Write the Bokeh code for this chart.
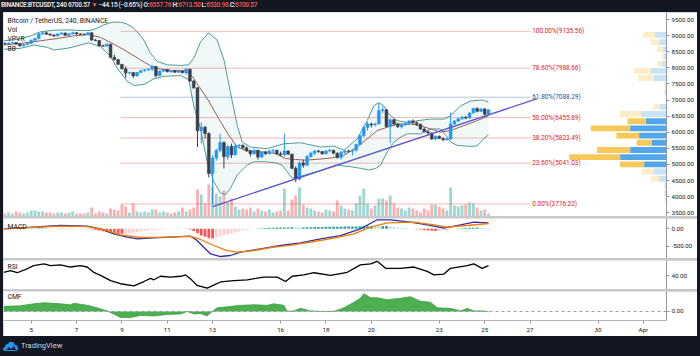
from bokeh.plotting import figure
from bokeh.layouts import column
from bokeh.models import (Range1d, FixedTicker, NumeralTickFormatter, ColumnDataSource,
                          Label, Span, Div, GlobalInlineStyleSheet)
from bokeh.core.properties import value
from bokeh.embed import file_html
from bokeh.resources import INLINE

# ---------------- data ----------------
symbol_text = "BINANCE:BTCUSDT, 240"
change_abs = -44.15
change_pct = -0.65
candle_start_day = 3 + 20 / 24      # first bar: 3 Mar 20:00
candle_step_day = 4 / 24            # 240-minute bars

opens = [8760, 8740, 8770, 8785, 8740, 8690, 8725, 8760, 8860, 8910,
         9060, 9090, 9045, 9020, 8990, 9055, 9085, 9010, 9060, 9095,
         9055, 9045, 9040, 9090, 8865, 8850, 8690, 8675, 8735, 8330,
         8255, 8110, 7970, 7840, 7860, 7750, 7855, 7915, 7940, 7960,
         8045, 7760, 7900, 7950, 7880, 7910, 7865, 7900, 7850, 7960,
         7590, 7380, 6050, 6160, 5960, 4720, 5200, 5440, 5680, 5240,
         5560, 5300, 5580, 5600, 5520, 5420, 5330, 5440, 5230, 5380,
         5330, 5420, 5440, 5330, 5300, 5420, 5320, 4880, 4550, 5050,
         4980, 5250, 5350, 5420, 5400, 5330, 5420, 5440, 5350, 5220,
         5380, 5420, 5410, 5440, 5620, 5900, 6150, 6260, 6230, 6260,
         6680, 6700, 6180, 6390, 6260, 6170, 6230, 6270, 6350, 6300,
         6250, 6100, 6020, 5980, 5790, 5880, 5810, 5770, 5800, 6260,
         6350, 6420, 6470, 6440, 6600, 6740, 6650, 6720, 6557.76]
highs = [8790, 8790, 8810, 8800, 8760, 8750, 8780, 8880, 8930, 9080,
         9110, 9135.56, 9080, 9040, 9070, 9100, 9095, 9075, 9120, 9110,
         9080, 9070, 9110, 9110, 8900, 8870, 8720, 8760, 8750, 8410,
         8280, 8120, 8050, 7880, 7870, 7870, 7930, 7960, 7980, 8080,
         8060, 7920, 7970, 7960, 7930, 7925, 7920, 7915, 8000, 7975,
         7620, 7400, 6310, 6200, 6000, 5300, 5480, 5950, 5720, 5600,
         5650, 5620, 5640, 5620, 5560, 5460, 5480, 5460, 5420, 5420,
         5450, 5470, 5460, 5400, 5950, 5440, 5340, 4950, 5100, 5150,
         5300, 5400, 5450, 5460, 5420, 5450, 5480, 5460, 5380, 5420,
         5450, 5460, 5460, 5650, 5920, 6180, 6320, 6300, 6300, 6900,
         6800, 6720, 6420, 6420, 6280, 6260, 6300, 6380, 6400, 6340,
         6270, 6150, 6060, 6000, 5900, 5900, 5840, 5830, 6620, 6380,
         6450, 6500, 6500, 6620, 6760, 6780, 6750, 6760, 6713.50]
lows = [8720, 8720, 8750, 8720, 8660, 8670, 8710, 8740, 8840, 8890,
        9030, 9030, 8990, 8960, 8980, 9030, 8990, 8995, 9040, 9030,
        9020, 9010, 9030, 8840, 8830, 8660, 8650, 8660, 8300, 8230,
        8090, 7950, 7690, 7800, 7690, 7730, 7840, 7880, 7900, 7900,
        7700, 7740, 7870, 7860, 7850, 7840, 7850, 7830, 7790, 7560,
        7350, 5540, 5650, 5800, 4600, 3776.22, 5120, 5380, 4880, 5150,
        5200, 5280, 5500, 5480, 5400, 5250, 5300, 5150, 5200, 5300,
        5320, 5350, 5300, 5250, 5250, 5300, 4850, 4450, 4500, 4900,
        4950, 5200, 5300, 5360, 5300, 5310, 5380, 5320, 5180, 5150,
        5330, 5360, 5280, 5400, 5590, 5850, 6050, 6150, 6180, 6240,
        6600, 6150, 5660, 6200, 6140, 6120, 6200, 6220, 6260, 6200,
        6080, 5990, 5930, 5760, 5750, 5790, 5720, 5740, 5760, 6230,
        6320, 6380, 6400, 6420, 6580, 6620, 6620, 6530, 6530.98]
closes = [8740, 8770, 8785, 8740, 8690, 8725, 8760, 8860, 8910, 9060,
          9090, 9045, 9020, 8990, 9055, 9085, 9010, 9060, 9095, 9055,
          9045, 9040, 9090, 8865, 8850, 8690, 8675, 8735, 8330, 8255,
          8110, 7970, 7840, 7860, 7750, 7855, 7915, 7940, 7960, 8045,
          7760, 7900, 7950, 7880, 7910, 7865, 7900, 7850, 7960, 7590,
          7380, 6050, 6160, 5960, 4720, 5200, 5440, 5680, 5240, 5560,
          5300, 5580, 5600, 5520, 5420, 5330, 5440, 5230, 5380, 5330,
          5420, 5440, 5330, 5300, 5420, 5320, 4880, 4550, 5050, 4980,
          5250, 5350, 5420, 5400, 5330, 5420, 5440, 5350, 5220, 5380,
          5420, 5410, 5440, 5620, 5900, 6150, 6260, 6230, 6260, 6680,
          6700, 6180, 6390, 6260, 6170, 6230, 6270, 6350, 6300, 6250,
          6100, 6020, 5980, 5790, 5880, 5810, 5770, 5800, 6260, 6350,
          6420, 6470, 6440, 6600, 6740, 6650, 6720, 6557.76, 6700.57]
volumes = [3, 4, 3, 5, 4, 3, 4, 6, 6, 5,
           5, 4, 4, 3, 4, 4, 3, 4, 5, 3,
           3, 3, 4, 9, 3, 5, 4, 3, 8, 7,
           6, 12, 10, 4, 13, 5, 4, 5, 4, 7,
           7, 4, 5, 4, 3, 4, 5, 9, 5, 7,
           9, 27, 22, 13, 32, 30, 23, 20, 26, 14,
           18, 10, 7, 8, 7, 9, 5, 8, 6, 5,
           7, 4, 5, 6, 28, 6, 17, 21, 29, 12,
           9, 8, 6, 5, 4, 7, 6, 5, 16, 11,
           8, 7, 6, 13, 21, 28, 13, 8, 11, 18,
           18, 16, 21, 13, 9, 8, 6, 9, 8, 6,
           4, 8, 6, 12, 12, 10, 8, 6, 29, 11,
           10, 11, 12, 14, 13, 9, 6, 7, 3]
macd_hist = [5, 6, 6, 5, 4, 4, 5, 8, 10, 14,
             16, 15, 13, 11, 11, 12, 10, 10, 12, 11,
             9, 8, 9, -15, -30, -50, -70, -95, -115, -130,
             -140, -145, -140, -125, -110, -95, -80, -65, -50, -38,
             -30, -22, -14, -8, 0, 4, 6, 5, 8, -20,
             -60, -130, -190, -230, -270, -275, -250, -220, -190, -160,
             -130, -100, -70, -45, -25, -10, 5, 12, 18, 24,
             28, 32, 34, 36, 38, 40, 45, 38, 35, 40,
             44, 48, 50, 52, 55, 56, 58, 60, 62, 62,
             64, 65, 66, 68, 70, 70, 72, 75, 72, 70,
             72, 78, 60, 45, 32, 22, 14, 8, 2, -10,
             -22, -35, -48, -58, -62, -55, -48, -40, -20, 0,
             10, 18, 24, 28, 32, 34, 30, 28, 26]

# Bollinger Bands
bb_upper_x = [3.79, 4.5, 5.0, 5.4, 6.0, 6.6, 7.2, 7.6, 7.9, 8.2, 8.6, 8.94, 9.2, 9.5, 9.82,
              9.97, 10.26, 10.56, 11.0, 11.59, 11.95, 12.17, 12.47, 12.83, 13.2, 13.5, 13.79,
              14.09, 14.31, 14.67, 15.41, 16.14, 16.88, 17.76, 18.35, 18.79, 19.38, 19.82,
              20.11, 20.33, 20.55, 20.77, 21.14, 21.59, 22.03, 22.61, 23.2, 23.49, 23.94,
              24.38, 24.89, 25.17]
bb_upper = [8840, 8900, 9000, 9120, 9170, 9180, 9160, 9160, 9230, 9340, 9420, 9420, 9370, 9250, 9000,
            8860, 8453, 8198, 8096, 8076, 8096, 8300, 8811, 9087, 8862, 8249, 7229,
            6206, 5696, 5543, 5492, 5645, 5676, 5543, 5574, 5441, 5798, 6360,
            6820, 6922, 6820, 6564, 6360, 6309, 6360, 6411, 6411, 6513, 6820,
            6973, 7004, 6940]
bb_lower_x = [3.79, 4.53, 5.11, 5.71, 6.0, 6.59, 7.17, 7.54, 8.06, 8.5, 8.79, 9.23, 9.53, 9.97,
              10.41, 10.85, 11.59, 11.95, 12.17, 12.47, 12.76, 13.05, 13.35, 13.57, 13.79,
              14.09, 14.53, 14.82, 15.34, 15.78, 16.07, 16.51, 17.1, 17.84, 18.42, 19.08,
              19.53, 19.89, 20.2, 20.41, 20.7, 21.0, 21.3, 21.59, 22.17, 22.61, 23.05, 23.35,
              23.49, 23.79, 24.38, 24.67, 24.96, 25.17]
bb_lower = [8577, 8607, 8709, 8638, 8556, 8607, 8709, 8780, 8658, 8351, 7994, 7586, 7453, 7484,
            7658, 7739, 7760, 7637, 6818, 6104, 5084, 4471, 4113, 4062, 4266,
            4675, 4981, 5084, 5084, 5050, 4981, 4573, 4675, 4828, 4981, 4930,
            4880, 4828, 4880, 4981, 5390, 5696, 5850, 5951, 5951, 6104, 6104, 5850,
            5700, 5594, 5560, 5580, 5798, 5920]
bb_basis_x = [3.79, 4.53, 5.41, 6.15, 6.88, 7.54, 8.06, 8.64, 9.23, 9.82, 10.26, 10.7, 11.14,
              11.81, 12.1, 12.39, 12.83, 13.28, 13.72, 14.09, 14.45, 14.89, 15.34, 15.78,
              16.22, 16.66, 17.1, 17.69, 18.28, 18.79, 19.38, 19.82, 20.26, 20.7, 21.14,
              21.73, 22.17, 22.61, 23.05, 23.49, 24.08, 24.67, 25.17]
bb_basis = [8709, 8760, 8842, 8913, 8995, 9036, 8944, 8740, 8505, 8249, 8066, 7963, 7922,
            7912, 7739, 7432, 6972, 6411, 5900, 5543, 5441, 5390, 5390, 5339,
            5185, 5155, 5134, 5165, 5206, 5287, 5543, 5798, 6053, 6156, 6258,
            6258, 6207, 6104, 6003, 6053, 6207, 6360, 6510]

# Fibonacci retracement
fib_ratios = [0.0, 23.6, 38.2, 50.0, 61.8, 78.6, 100.0]
fib_prices = [3776.22, 5041.03, 5823.49, 6455.89, 7088.29, 7988.66, 9135.56]
fib_start_day, fib_end_day = 8.94, 27.02

# trend line drawing
trend_x = [13.0, 27.32]
trend_y = [3694, 7045]

# Volume profile (24 rows between the visible low and high), bottom row first
vp_low, vp_high, vp_rows = 3776.22, 9135.56, 24
vp_up = [1.0, 2.0, 1.7, 7.4, 12.4, 22.4, 46.4, 36.4, 15.0, 27.4, 36.4, 20.7,
         25.7, 7.0, 0.5, 1.5, 1.2, 13.0, 15.7, 4.4, 2.4, 4.0, 7.4, 11.4]
vp_down = [0.5, 0.3, 0.5, 8.3, 12.3, 24.0, 51.0, 33.0, 14.7, 22.6, 39.3, 18.3,
           20.7, 6.0, 0.0, 0.8, 1.0, 15.4, 16.7, 4.6, 2.0, 5.7, 8.3, 12.0]
vp_value_area = (5, 11)

# MACD (12,26,9)
macd_x = [3.79, 4.53, 6.29, 7.47, 8.06, 8.64, 9.23, 9.68, 10.41, 11.29, 12.03, 12.32, 12.61,
          12.91, 13.35, 13.79, 14.23, 15.11, 16.0, 16.88, 17.76, 18.64, 19.52, 20.26, 20.85,
          21.73, 22.47, 23.2, 23.94, 24.52, 25.17]
macd_line = [0, 29, 95, 75, 0, -144, -241, -287, -259, -230, -213, -336, -529,
             -718, -796, -767, -672, -575, -480, -402, -287, -193, 0, 259, 259,
             190, 115, 17, 115, 190, 172]
signal_x = [3.79, 6.29, 7.47, 8.35, 8.94, 9.82, 11.0, 12.03, 12.47, 13.05, 13.64, 14.09,
            14.82, 15.7, 16.58, 17.47, 18.35, 19.23, 19.97, 20.7, 21.88, 22.76, 23.35,
            24.23, 25.17]
signal_line = [0, 75, 65, -49, -172, -250, -241, -220, -307, -480, -624, -672,
               -624, -529, -460, -365, -270, -144, 46, 172, 190, 115, 46,
               95, 152]

# RSI (14)
rsi_x = [3.79, 4.09, 4.38, 4.82, 5.11, 5.56, 5.85, 6.29, 6.73, 7.17, 7.47, 7.76, 8.06, 8.5,
         8.94, 9.53, 9.97, 10.26, 10.41, 10.7, 11.14, 11.59, 11.81, 12.03, 12.32, 12.76,
         13.05, 13.35, 13.94, 14.53, 15.26, 15.85, 16.22, 16.51, 17.02, 17.47, 18.2,
         18.94, 19.52, 19.97, 20.26, 20.63, 21.29, 21.88, 22.47, 22.76, 23.2, 23.49,
         24.23, 24.52, 24.89, 25.17]
rsi = [48, 52, 47, 56, 63, 67, 63, 65, 60, 63, 60, 48, 41, 29,
       22, 17, 27, 34, 31, 39, 37, 39, 42, 33, 18, 12,
       19, 26, 29, 31, 37, 37, 27, 39, 42, 47, 41,
       48, 65, 67, 73, 57, 57, 60, 50, 42, 44, 57,
       63, 67, 57, 63]

# Chaikin Money Flow (20)
cmf_x = [3.79, 4.53, 5.11, 5.56, 6.29, 6.73, 6.88, 7.47, 7.91, 8.35, 8.64, 8.94, 9.38, 9.82,
         10.41, 11.0, 11.59, 11.88, 12.17, 12.47, 12.76, 12.91, 13.2, 13.64, 14.23, 14.82,
         15.41, 15.7, 16.14, 16.29, 16.58, 16.88, 17.32, 17.76, 18.35, 18.79, 19.23, 19.52,
         19.67, 19.97, 20.26, 20.7, 21.29, 21.73, 22.17, 22.61, 22.91, 23.49, 23.94, 24.23,
         24.52, 24.96, 25.17]
cmf = [0.10, 0.11, 0.15, 0.17, 0.15, 0.13, 0.16, 0.12, 0.07, 0.01, -0.05, -0.12, -0.12, -0.08,
       -0.09, -0.06, -0.05, 0.0, -0.05, -0.04, -0.09, -0.03, 0.07, 0.09, 0.12, 0.13,
       0.12, 0.15, 0.12, 0.0, 0.01, 0.06, 0.01, 0.0, 0.0, 0.07, 0.18, 0.26,
       0.35, 0.27, 0.27, 0.23, 0.26, 0.29, 0.20, 0.18, 0.07, 0.06, 0.01, 0.06,
       0.01, 0.01, -0.01]

# axes
x_view = (3.778, 33.02)
xtick_days = [5, 7, 9, 11, 13, 16, 18, 20, 23, 25, 27, 30, 32]
xtick_labels = ["5", "7", "9", "11", "13", "16", "18", "20", "23", "25", "27", "30", "Apr"]
price_view = (3385, 9720)
price_ticks = [3500, 4000, 4500, 5000, 5500, 6000, 6500, 7000, 7500, 8000, 8500, 9000, 9500]
macd_view = (-853, 296)
macd_ticks = [-500, 0]
rsi_view = (8.9, 74.8)
rsi_ticks = [40]
cmf_view = (-0.179, 0.392)
cmf_ticks = [0]

# ---------------- style ----------------
FONT = "Roboto"
UP, DOWN = "#2196f3", "#3b3f4a"
W = 694
FR_RIGHT = 31
H_MAIN, H_MACD, H_RSI, H_CMF, H_XAX = 204, 40, 29, 31, 14

xr = Range1d(*x_view)


def style_yaxis(ax, ticks):
    ax.ticker = FixedTicker(ticks=ticks)
    ax.formatter = NumeralTickFormatter(format="0.00")
    ax.major_label_text_font = FONT
    ax.major_label_text_font_size = "6.2px"
    ax.major_label_text_color = "#131722"
    ax.axis_line_color = "#9598a1"
    ax.major_tick_line_color = "#9598a1"
    ax.major_tick_out = 3
    ax.major_tick_in = 0
    ax.minor_tick_out = 0
    ax.minor_tick_in = 0
    ax.major_label_standoff = 2


def pane(h, yr, ticks, xaxis=False):
    p = figure(width=W, height=h, x_range=xr, y_range=Range1d(*yr), title=None,
               output_backend="svg", toolbar_location=None,
               y_axis_location="right", x_axis_location="below" if xaxis else None,
               min_border_left=0, min_border_right=FR_RIGHT, min_border_top=0,
               min_border_bottom=H_XAX if xaxis else 0,
               background_fill_color="white", border_fill_color="white",
               outline_line_color=None)
    p.grid.visible = False
    style_yaxis(p.yaxis[0], ticks)
    return p


def pane_label(p, text, y_from_top, frame_h):
    p.add_layout(Label(x=4, y=frame_h - y_from_top, x_units="screen", y_units="screen",
                       text=text, text_font=FONT, text_font_size="6.8px",
                       text_color="#131722", text_baseline="middle"))


n = len(closes)
t = [candle_start_day + k * candle_step_day for k in range(n)]
is_up = [c >= o for o, c in zip(opens, closes)]
src = ColumnDataSource(dict(
    t=t, h=highs, l=lows,
    top=[max(o, c) for o, c in zip(opens, closes)],
    bot=[min(o, c) for o, c in zip(opens, closes)],
    ccol=[UP if u else DOWN for u in is_up],
    vol=volumes,
    vcol=["#26a69a" if u else "#ef5350" for u in is_up],
))

# ---------------- main pane ----------------
main = pane(H_MAIN, price_view, price_ticks)
main.extra_y_ranges = {"vol": Range1d(0, H_MAIN)}
main.extra_x_ranges = {"vp": Range1d(W - FR_RIGHT, 0)}

main.vbar(x="t", top="vol", bottom=0, width=0.125, source=src, y_range_name="vol",
          fill_color="vcol", fill_alpha=0.45, line_color=None)

main.patch(bb_upper_x + bb_lower_x[::-1], bb_upper + bb_lower[::-1],
           fill_color="#26a69a", fill_alpha=0.07, line_color=None)
main.line(bb_upper_x, bb_upper, line_color="#4f9c95", line_width=1)
main.line(bb_lower_x, bb_lower, line_color="#4f9c95", line_width=1)
main.line(bb_basis_x, bb_basis, line_color="#a05a55", line_width=1)

fib_line_colors = ["#2b5aa8" if r == 61.8 else "#e53935" for r in fib_ratios]
fib_text_colors = ["#1f4f9e" if r == 61.8 else "#e0201b" for r in fib_ratios]
main.segment(x0=[fib_start_day] * len(fib_prices), x1=[fib_end_day] * len(fib_prices),
             y0=fib_prices, y1=fib_prices, line_color=fib_line_colors,
             line_alpha=0.35, line_width=1)

main.segment(x0="t", x1="t", y0="h", y1="l", source=src, line_color="ccol", line_width=1)
main.vbar(x="t", top="top", bottom="bot", width=0.125, source=src,
          fill_color="ccol", line_color="ccol", line_width=0.5)

main.line(trend_x, trend_y, line_color="#5656d6", line_width=1.3)

vp_step = (vp_high - vp_low) / vp_rows
vp_centers = [vp_low + (k + 0.5) * vp_step for k in range(vp_rows)]
in_va = [vp_value_area[0] <= k <= vp_value_area[1] for k in range(vp_rows)]
main.hbar(y=vp_centers, height=vp_step * 0.82, left=0, right=vp_up, x_range_name="vp",
          fill_color=["#52a6ea" if v else "#c8e2f6" for v in in_va], line_color=None)
main.hbar(y=vp_centers, height=vp_step * 0.82, left=vp_up,
          right=[u + d for u, d in zip(vp_up, vp_down)], x_range_name="vp",
          fill_color=["#f8c95a" if v else "#fcedc8" for v in in_va], line_color=None)

fib_texts = [f"{r:.2f}%({p:.2f})" for r, p in zip(fib_ratios, fib_prices)]
main.text(x=[fib_end_day + 0.08] * len(fib_prices), y=fib_prices, text=fib_texts,
          text_color=fib_text_colors, text_font=value(FONT), text_font_size=value("6.4px"),
          text_baseline="middle", text_align="left")

pane_label(main, "Bitcoin / TetherUS, 240, BINANCE", 8.7, H_MAIN)
pane_label(main, "Vol", 17.3, H_MAIN)
pane_label(main, "VPVR", 26.3, H_MAIN)
pane_label(main, "BB", 36.3, H_MAIN)

# ---------------- MACD ----------------
macd_fig = pane(H_MACD, macd_view, macd_ticks)
hist_colors = []
for k, hv in enumerate(macd_hist):
    prev = macd_hist[k - 1] if k > 0 else hv
    if hv >= 0:
        hist_colors.append("#26a69a" if hv >= prev else "#b2dfdb")
    else:
        hist_colors.append("#ff5252" if hv < prev else "#ffcdd2")
macd_fig.vbar(x=t, top=macd_hist, bottom=0, width=0.12, fill_color=hist_colors, line_color=None)
macd_fig.line(macd_x, macd_line, line_color="#3030a8", line_width=1.3)
macd_fig.line(signal_x, signal_line, line_color="#f57c00", line_width=1.3)
pane_label(macd_fig, "MACD", 8, H_MACD)

# ---------------- RSI ----------------
rsi_fig = pane(H_RSI, rsi_view, rsi_ticks)
rsi_fig.line(rsi_x, rsi, line_color="#000000", line_width=1.3)
pane_label(rsi_fig, "RSI", 6.7, H_RSI)

# ---------------- CMF ----------------
cmf_fig = pane(H_CMF + H_XAX, cmf_view, cmf_ticks, xaxis=True)
cmf_fig.varea(x=cmf_x, y1=[0] * len(cmf_x), y2=cmf, fill_color="#4caf50")
cmf_fig.line(cmf_x, cmf, line_color="#43a047", line_width=0.8)
cmf_fig.add_layout(Span(location=0, dimension="width", line_color="#9598a1",
                        line_dash="3 3", line_width=1))
pane_label(cmf_fig, "CMF", 7.3, H_CMF)
xa = cmf_fig.xaxis[0]
xa.ticker = FixedTicker(ticks=xtick_days)
xa.major_label_overrides = {d: s for d, s in zip(xtick_days, xtick_labels)}
xa.major_label_text_font = FONT
xa.major_label_text_font_size = "6.2px"
xa.major_label_text_color = "#131722"
xa.axis_line_color = "#b2b5be"
xa.major_tick_line_color = "#9598a1"
xa.major_tick_out = 3
xa.major_tick_in = 0
xa.minor_tick_out = 0
xa.minor_tick_in = 0
xa.major_label_standoff = 2

# ---------------- header / footer ----------------
RED = "#ef5350"
sign = "\u2212" if change_abs < 0 else "+"
header_html = (
    f'<span style="font-weight:700">{symbol_text}</span>&nbsp;'
    f'<span>{closes[-1]:.2f}</span>&nbsp;<span style="color:{RED}">&#9660;</span>&nbsp;'
    f'<span>{sign}{abs(change_abs):.2f} ({sign}{abs(change_pct):.2f}%)</span>&nbsp;'
    f'O:<span style="color:{RED}">{opens[-1]:.2f}</span>&nbsp;'
    f'H:<span style="color:{RED}">{highs[-1]:.2f}</span>&nbsp;'
    f'L:<span style="color:{RED}">{lows[-1]:.2f}</span>&nbsp;'
    f'C:<span style="color:{RED}">{closes[-1]:.2f}</span>'
)
header = Div(text=header_html, width=700, height=12, margin=(0, 0, 0, 0),
             styles={"background-color": "#131722", "color": "#e0e3eb",
                     "font-family": FONT, "font-size": "6.5px", "font-weight": "600",
                     "letter-spacing": "-0.3px",
                     "line-height": "11px", "padding-left": "1px",
                     "white-space": "nowrap", "overflow": "hidden"})

logo_svg = ('<svg width="16" height="11" viewBox="0 0 16 11">'
            '<path d="M2 10 Q0 10 0 8 Q0 6 2 6 Q2 3 5 3 Q6 0 9 1 Q11 1 12 4 Q15 4 15 7 Q15 10 12 10 Z" '
            'fill="#2196f3"/><path d="M3 9 L6 6 L8 8 L11 5 L13 9 Z" fill="#131722"/></svg>')
footer = Div(text=f'<div style="display:flex;align-items:center;height:20px;padding-left:3px;">'
                  f'{logo_svg}<span style="margin-left:2px">TradingView</span></div>',
             width=700, height=20, margin=(0, 0, 0, 0),
             styles={"background-color": "#131722", "color": "#d1d4dc",
                     "font-family": FONT, "font-size": "7.5px"})

body = column(main, macd_fig, rsi_fig, cmf_fig, spacing=2, margin=(0, 3, 0, 3),
              styles={"background-color": "#c7c9cf"})
root = column(header, body, footer, spacing=0,
              styles={"background-color": "#131722"},
              stylesheets=[GlobalInlineStyleSheet(
                  css="html, body {margin:0; padding:0; background:#131722;}")])

open("out.html", "w").write(file_html(root, INLINE))
